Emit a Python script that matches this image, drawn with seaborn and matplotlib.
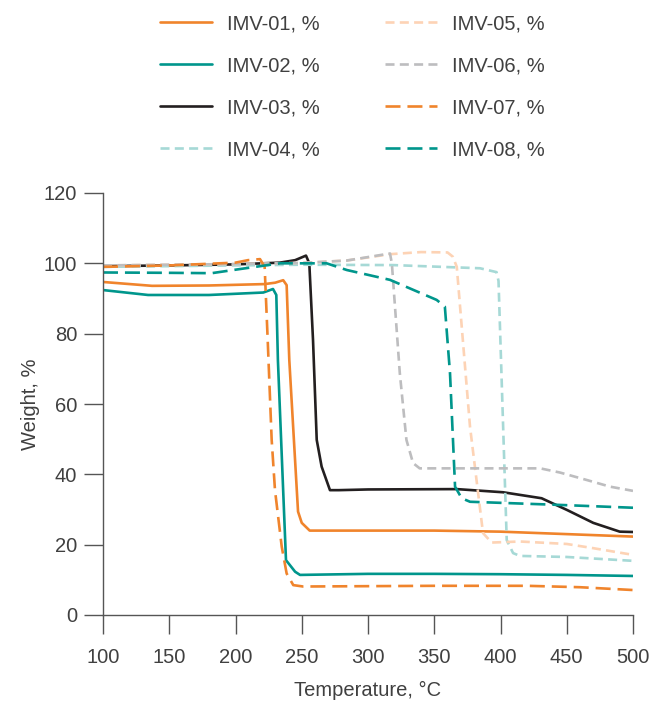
import matplotlib
matplotlib.use("Agg")
import matplotlib.pyplot as plt
from matplotlib.lines import Line2D
import seaborn as sns
import pandas as pd

# ---------------- data ----------------
series_names = ["IMV-01, %", "IMV-02, %", "IMV-03, %", "IMV-04, %",
                "IMV-05, %", "IMV-06, %", "IMV-07, %", "IMV-08, %"]

t_01 = [100, 137, 180, 222, 230, 236, 238.6, 240.6, 247.2, 250, 256, 300, 350, 400, 450, 500]
w_01 = [94.7, 93.6, 93.7, 94.1, 94.5, 95.2, 93.8, 72.5, 29.4, 26.2, 24.0, 24.0, 24.0, 23.7, 23.0, 22.3]

t_02 = [100, 134, 180, 221, 228.3, 230.8, 232, 238.1, 245, 248.7, 300, 350, 400, 450, 500]
w_02 = [92.4, 91.0, 91.0, 91.7, 92.7, 91.0, 72.5, 15.6, 12.3, 11.4, 11.7, 11.7, 11.6, 11.4, 11.1]

t_03 = [100, 150, 200, 233.6, 245, 253.2, 255.7, 258.5, 261.3, 265, 271.3, 278, 300, 367, 402, 431, 450, 470, 490, 500]
w_03 = [99.2, 99.4, 99.7, 100.2, 100.9, 102.2, 100.0, 78.2, 49.8, 42.2, 35.5, 35.5, 35.7, 35.8, 34.9, 33.2, 29.9, 26.2, 23.7, 23.6]

t_04 = [100, 150, 200, 250, 319, 384.5, 397, 398.5, 404.7, 409.5, 414.7, 450, 500]
w_04 = [99.0, 99.2, 99.4, 99.6, 99.5, 98.6, 97.5, 95.0, 21.3, 17.6, 16.8, 16.5, 15.4]

t_05 = [100, 150, 200, 250, 284, 316.6, 340, 360, 364, 367, 377, 386.8, 393.3, 414.7, 450, 470, 500]
w_05 = [99.4, 99.6, 99.8, 100.1, 100.8, 102.6, 103.2, 103.1, 101.9, 99.0, 53.5, 23.3, 20.6, 20.9, 20.2, 19.0, 17.1]

t_06 = [100, 150, 200, 250, 284, 316.6, 318, 324, 329, 334, 339, 430, 445, 465, 482.6, 500]
w_06 = [99.4, 99.6, 99.8, 100.1, 100.8, 102.8, 100.0, 68.8, 49.8, 43.2, 41.7, 41.7, 40.5, 38.4, 36.5, 35.3]

t_07 = [100, 150, 200, 209.4, 218.5, 222, 224.3, 227.3, 229.8, 234.9, 238.6, 243.6, 251, 300, 350, 420, 460, 500]
w_07 = [99.0, 99.4, 100.2, 100.9, 101.2, 99.0, 78.2, 49.8, 35.5, 19.4, 11.8, 8.5, 8.1, 8.2, 8.3, 8.3, 7.9, 7.1]

t_08 = [100, 150, 182, 202, 233.6, 268.8, 284, 316.6, 351.8, 358, 361.9, 365.7, 370.7, 377, 445, 500]
w_08 = [97.4, 97.3, 97.2, 98.3, 100.0, 100.0, 98.1, 95.3, 89.6, 87.7, 68.7, 36.5, 33.2, 32.2, 31.3, 30.5]

x_ticks = [100, 150, 200, 250, 300, 350, 400, 450, 500]
y_ticks = [0, 20, 40, 60, 80, 100, 120]

# ---------------- styling ----------------
ORANGE = "#F0842C"
TEAL = "#00968C"
BLACK = "#231F20"
LTEAL = "#A6D9D6"
PEACH = "#FDD3B5"
GREY = "#BDBDBF"
colors = [ORANGE, TEAL, BLACK, LTEAL, PEACH, GREY, ORANGE, TEAL]
SOLID = ""
SHORT = (6.5, 3.8)
LONG = (10.8, 5.0)
dash_list = [SOLID, SOLID, SOLID, SHORT, SHORT, SHORT, LONG, LONG]

palette = dict(zip(series_names, colors))
dashes = dict(zip(series_names, dash_list))

all_t = [t_01, t_02, t_03, t_04, t_05, t_06, t_07, t_08]
all_w = [w_01, w_02, w_03, w_04, w_05, w_06, w_07, w_08]
frames = []
for name, t, w in zip(series_names, all_t, all_w):
    frames.append(pd.DataFrame({"Temperature": t, "Weight": w, "Series": name}))
df = pd.concat(frames, ignore_index=True)

sns.set_theme(style="ticks")
plt.rcParams["font.family"] = ["Liberation Sans", "DejaVu Sans"]
plt.rcParams["lines.scale_dashes"] = False
TEXT = "#404040"
AX = "#555555"

fig = plt.figure(figsize=(6.54, 7.02), dpi=100)
ax = fig.add_axes([103 / 654, 87 / 702, 530 / 654, 422 / 702])

LW = 1.9
sns.lineplot(data=df, x="Temperature", y="Weight", hue="Series", style="Series",
             palette=palette, dashes=dashes, sort=False, estimator=None,
             linewidth=LW, legend=False, ax=ax)

ax.set_xlim(100, 500)
ax.set_ylim(0, 120)
ax.set_xticks(x_ticks)
ax.set_yticks(y_ticks)
ax.set_xticklabels([str(v) for v in x_ticks])
ax.set_yticklabels([str(v) for v in y_ticks])
for s in ["top", "right"]:
    ax.spines[s].set_visible(False)
for s in ["left", "bottom"]:
    ax.spines[s].set_color(AX)
    ax.spines[s].set_linewidth(1.0)
ax.tick_params(axis="both", length=13.5, width=1.0, color=AX, labelcolor=TEXT,
               labelsize=14.5, direction="out")
ax.tick_params(axis="y", pad=5)
ax.tick_params(axis="x", pad=10.5)
ax.set_xlabel("Temperature, °C", fontsize=14.5, color=TEXT, labelpad=10)
ax.set_ylabel("Weight, %", fontsize=14.5, color=TEXT, labelpad=3)
ax.grid(False)

handles = [Line2D([0], [0], color=palette[n], lw=LW,
                  linestyle="-" if dashes[n] == "" else (0, dashes[n]))
           for n in series_names]
fig.legend(handles, series_names, loc="upper left",
           bbox_to_anchor=(160 / 654, 1 - 14 / 702), ncol=2, frameon=False,
           fontsize=14.5, labelcolor=TEXT, handlelength=2.6, handletextpad=0.75,
           columnspacing=3.2, labelspacing=1.15, borderpad=0, borderaxespad=0)

fig.savefig("out.png", dpi=100)
